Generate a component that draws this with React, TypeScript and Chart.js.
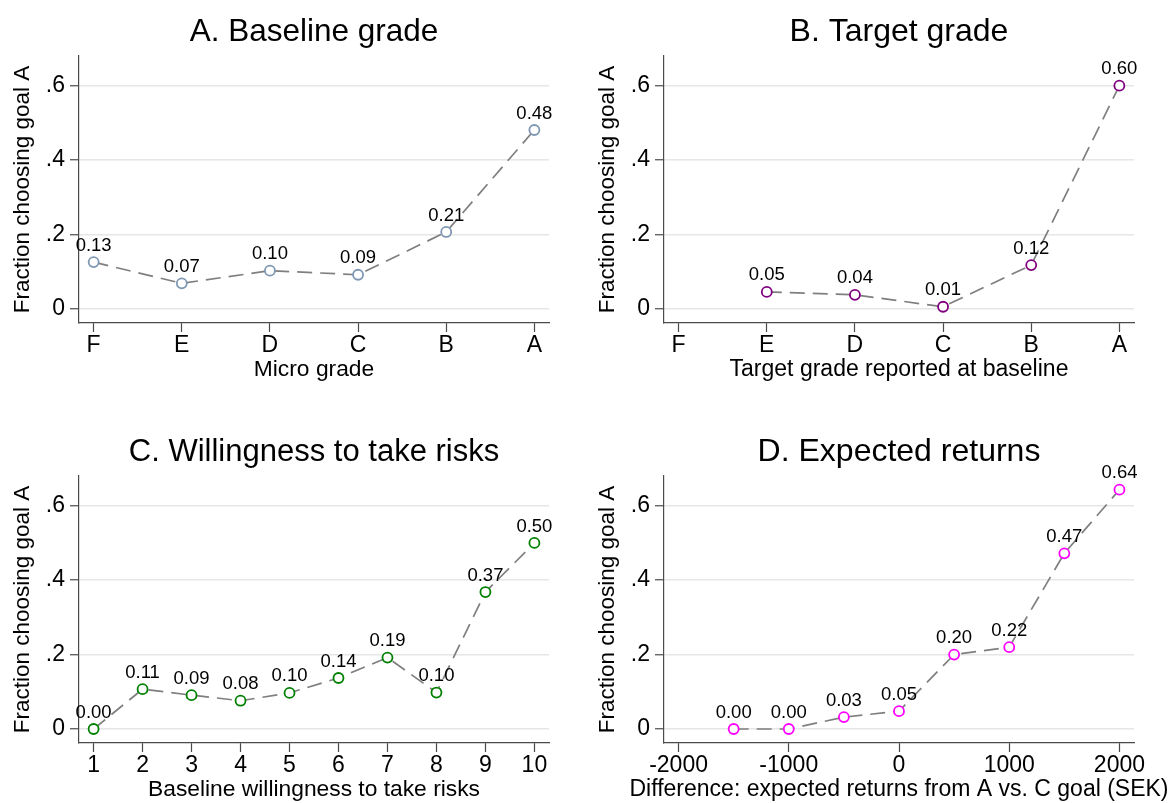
import React, { useEffect, useRef } from "react";
import { Chart, registerables } from "chart.js";

Chart.register(...registerables);

// ---------- data ----------
const gradeTickLabels = ["F", "E", "D", "C", "B", "A"];
const gradePositions = [1, 2, 3, 4, 5, 6];
const baselineGradeValues = [0.126, 0.069, 0.103, 0.092, 0.207, 0.481];
const targetGradeValues: (number | null)[] = [null, 0.046, 0.038, 0.006, 0.118, 0.6];

const riskPositions = [1, 2, 3, 4, 5, 6, 7, 8, 9, 10];
const riskValues = [0.0, 0.107, 0.091, 0.076, 0.097, 0.137, 0.192, 0.098, 0.368, 0.5];

const returnPositions = [-1500, -1000, -500, 0, 500, 1000, 1500, 2000];
const returnValues = [0.0, 0.0, 0.032, 0.048, 0.2, 0.22, 0.472, 0.643];
const returnTickValues = [-2000, -1000, 0, 1000, 2000];

const yTickValues = [0, 0.2, 0.4, 0.6];
const yTickLabels = ["0", ".2", ".4", ".6"];

const panelTitles = [
  "A. Baseline grade",
  "B. Target grade",
  "C. Willingness to take risks",
  "D. Expected returns",
];
const xAxisTitles = [
  "Micro grade",
  "Target grade reported at baseline",
  "Baseline willingness to take risks",
  "Difference: expected returns from A vs. C goal (SEK)",
];
const yAxisTitle = "Fraction choosing goal A";

// ---------- style ----------
const FONT = "'Liberation Sans', Arial, Helvetica, sans-serif";
const AXIS_COLOR = "#4a4a4a";
const GRID_COLOR = "#e6e6e6";
const LINE_COLOR = "#7f7f7f";

const W = 585;
const H = 420;
const AREA_LEFT = 79;
const AREA_RIGHT = 549;
const AREA_TOP = 56;
const AREA_BOTTOM = 323;

type PanelCfg = {
  title: string;
  titleSize: number;
  xTitle: string;
  xTitleSize: number;
  xs: number[];
  ys: (number | null)[];
  color: string;
  xMin: number;
  xMax: number;
  xTicks: number[];
  xFmt: (v: number) => string;
  left: number;
  top: number;
};

const gradeFmt = (v: number) => gradeTickLabels[Math.round(v) - 1] ?? "";
const numFmt = (v: number) => String(Math.round(v));

const panels: PanelCfg[] = [
  {
    title: panelTitles[0],
    titleSize: 31.5,
    xTitle: xAxisTitles[0],
    xTitleSize: 22.8,
    xs: gradePositions,
    ys: baselineGradeValues,
    color: "#7f97b3",
    xMin: 0.834,
    xMax: 6.166,
    xTicks: gradePositions,
    xFmt: gradeFmt,
    left: 0,
    top: 0,
  },
  {
    title: panelTitles[1],
    titleSize: 32,
    xTitle: xAxisTitles[1],
    xTitleSize: 23,
    xs: gradePositions,
    ys: targetGradeValues,
    color: "#800080",
    xMin: 0.834,
    xMax: 6.166,
    xTicks: gradePositions,
    xFmt: gradeFmt,
    left: 585,
    top: 0,
  },
  {
    title: panelTitles[2],
    titleSize: 31,
    xTitle: xAxisTitles[2],
    xTitleSize: 22.8,
    xs: riskPositions,
    ys: riskValues,
    color: "#008000",
    xMin: 0.702,
    xMax: 10.298,
    xTicks: riskPositions,
    xFmt: numFmt,
    left: 0,
    top: 420,
  },
  {
    title: panelTitles[3],
    titleSize: 32,
    xTitle: xAxisTitles[3],
    xTitleSize: 23,
    xs: returnPositions,
    ys: returnValues,
    color: "#ff00ff",
    xMin: -2132,
    xMax: 2132,
    xTicks: returnTickValues,
    xFmt: numFmt,
    left: 585,
    top: 420,
  },
];

function Panel({ cfg }: { cfg: PanelCfg }) {
  const ref = useRef<HTMLCanvasElement>(null);

  useEffect(() => {
    const canvas = ref.current;
    if (!canvas) return;

    const textPlugin = {
      id: "panelTexts",
      afterDraw(chart: any) {
        const { ctx, chartArea } = chart;
        const cx = (chartArea.left + chartArea.right) / 2;
        ctx.save();
        ctx.fillStyle = "#000";
        ctx.textAlign = "center";
        // panel title
        ctx.font = `${cfg.titleSize}px ${FONT}`;
        ctx.textBaseline = "alphabetic";
        ctx.fillText(cfg.title, cx, 41);
        // x-axis title (no width limit, may extend past the plot area)
        ctx.font = `${cfg.xTitleSize}px ${FONT}`;
        ctx.textBaseline = "middle";
        ctx.fillText(cfg.xTitle, cx, chartArea.bottom + 47);
        ctx.restore();
      },
    };

    const labelPlugin = {
      id: "pointLabels",
      afterDatasetsDraw(chart: any) {
        const { ctx } = chart;
        const meta = chart.getDatasetMeta(0);
        ctx.save();
        ctx.font = `18.5px ${FONT}`;
        ctx.fillStyle = "#000";
        ctx.textAlign = "center";
        ctx.textBaseline = "middle";
        meta.data.forEach((pt: any, i: number) => {
          const v = cfg.ys[i];
          if (v === null || v === undefined) return;
          ctx.fillText(v.toFixed(2), pt.x, pt.y - 16.5);
        });
        ctx.restore();
      },
    };

    const chart = new Chart(canvas, {
      type: "line",
      data: {
        datasets: [
          {
            data: cfg.xs.map((x, i) => ({ x, y: cfg.ys[i] as any })),
            borderColor: LINE_COLOR,
            borderWidth: 1.7,
            borderDash: [15, 8],
            pointRadius: 5,
            pointBorderWidth: 1.8,
            pointBorderColor: cfg.color,
            pointBackgroundColor: "#ffffff",
            pointHoverRadius: 5,
            tension: 0,
            spanGaps: false,
            fill: false,
          },
        ],
      },
      options: {
        responsive: false,
        animation: false,
        devicePixelRatio: 1,
        events: [],
        layout: {
          padding: { left: 0, top: AREA_TOP, right: W - AREA_RIGHT, bottom: 0 },
        },
        plugins: {
          legend: { display: false },
          title: { display: false },
          tooltip: { enabled: false },
        },
        scales: {
          x: {
            type: "linear",
            min: cfg.xMin,
            max: cfg.xMax,
            afterBuildTicks: (scale: any) => {
              scale.ticks = cfg.xTicks.map((v) => ({ value: v }));
            },
            afterFit: (scale: any) => {
              scale.height = H - AREA_BOTTOM;
            },
            ticks: {
              autoSkip: false,
              maxRotation: 0,
              minRotation: 0,
              padding: 0,
              color: "#000",
              font: { size: 23, family: FONT },
              callback: (v: any) => cfg.xFmt(Number(v)),
            },
            grid: {
              drawOnChartArea: false,
              drawTicks: true,
              tickLength: 9,
              tickColor: AXIS_COLOR,
              tickWidth: 1.2,
              color: AXIS_COLOR,
            },
            border: { display: true, color: AXIS_COLOR, width: 1.2 },
            title: { display: false },
          },
          y: {
            type: "linear",
            min: -0.0376,
            max: 0.6798,
            afterBuildTicks: (scale: any) => {
              scale.ticks = yTickValues.map((v) => ({ value: v }));
            },
            afterFit: (scale: any) => {
              scale.width = AREA_LEFT;
            },
            ticks: {
              autoSkip: false,
              padding: 5,
              color: "#000",
              font: { size: 23, family: FONT },
              callback: (v: any) => {
                const idx = yTickValues.findIndex((t) => Math.abs(t - Number(v)) < 1e-6);
                return idx >= 0 ? yTickLabels[idx] : "";
              },
            },
            grid: {
              drawOnChartArea: true,
              drawTicks: true,
              tickLength: 9,
              color: GRID_COLOR,
              lineWidth: 1.5,
              tickColor: AXIS_COLOR,
              tickWidth: 1.2,
            },
            border: { display: true, color: AXIS_COLOR, width: 1.2 },
            title: {
              display: true,
              text: yAxisTitle,
              color: "#000",
              font: { size: 22.5, family: FONT },
              padding: { top: 9, bottom: 0 },
            },
          },
        },
      },
      plugins: [textPlugin, labelPlugin],
    } as any);

    return () => chart.destroy();
  }, [cfg]);

  return (
    <canvas
      ref={ref}
      width={W}
      height={H}
      style={{
        position: "absolute",
        left: cfg.left,
        top: cfg.top,
        width: W,
        height: H,
        display: "block",
      }}
    />
  );
}

export default function App() {
  return (
    <div
      style={{
        position: "absolute",
        left: 0,
        top: 0,
        width: 1169,
        height: 803,
        overflow: "hidden",
        background: "#ffffff",
      }}
    >
      {panels.map((p, i) => (
        <Panel key={i} cfg={p} />
      ))}
    </div>
  );
}
